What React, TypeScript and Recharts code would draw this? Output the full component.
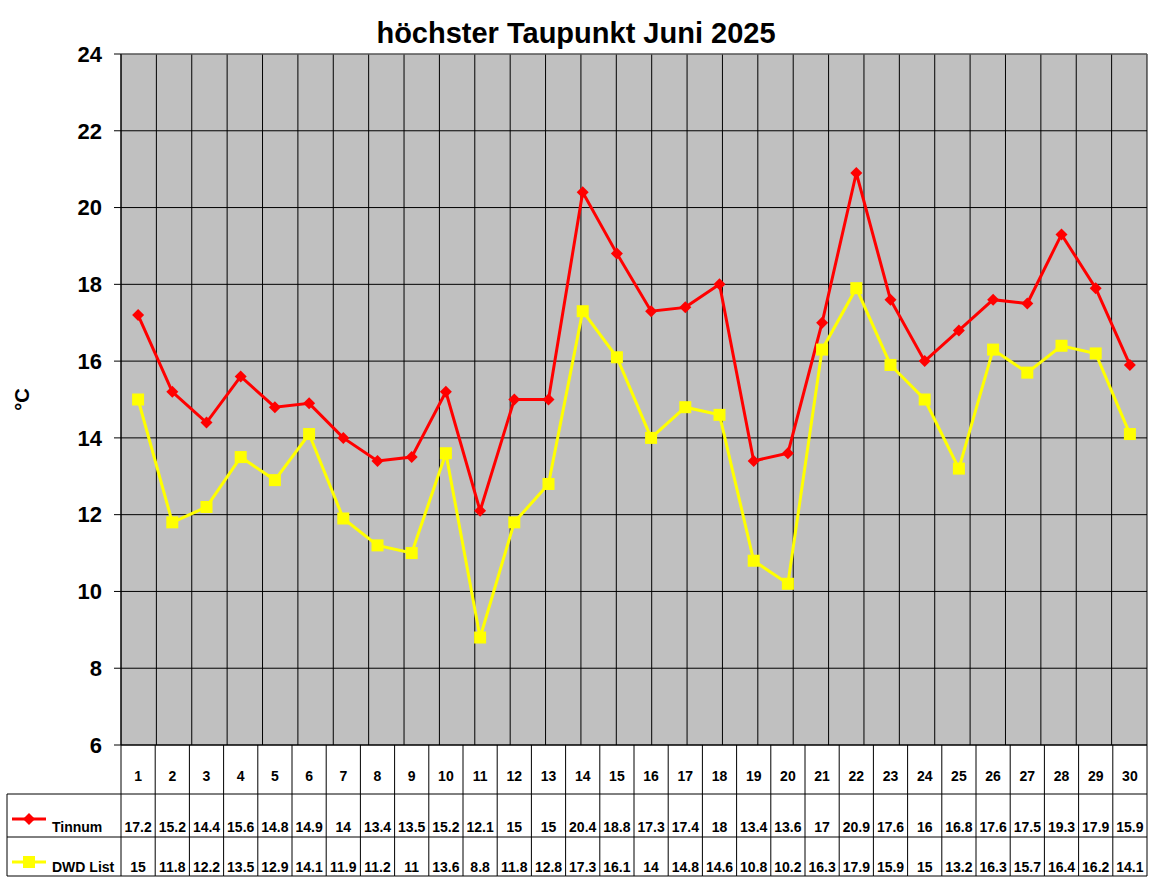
import React from "react";
import {
  LineChart,
  Line,
  XAxis,
  YAxis,
  CartesianGrid,
  ReferenceLine,
} from "recharts";

const days = [
  "1", "2", "3", "4", "5", "6", "7", "8", "9", "10",
  "11", "12", "13", "14", "15", "16", "17", "18", "19", "20",
  "21", "22", "23", "24", "25", "26", "27", "28", "29", "30",
];

const tinnum = [
  17.2, 15.2, 14.4, 15.6, 14.8, 14.9, 14, 13.4, 13.5, 15.2,
  12.1, 15, 15, 20.4, 18.8, 17.3, 17.4, 18, 13.4, 13.6,
  17, 20.9, 17.6, 16, 16.8, 17.6, 17.5, 19.3, 17.9, 15.9,
];

const dwdList = [
  15, 11.8, 12.2, 13.5, 12.9, 14.1, 11.9, 11.2, 11, 13.6,
  8.8, 11.8, 12.8, 17.3, 16.1, 14, 14.8, 14.6, 10.8, 10.2,
  16.3, 17.9, 15.9, 15, 13.2, 16.3, 15.7, 16.4, 16.2, 14.1,
];

const yTicks = [6, 8, 10, 12, 14, 16, 18, 20, 22, 24];
const gridTicks = days.map((_, i) => i).concat(days.length);

const data = days.map((day, i) => ({ day, tinnum: tinnum[i], dwd: dwdList[i] }));

const FONT = "Arial, 'Liberation Sans', sans-serif";
const W = 1152;
const H = 882;
const PLOT_LEFT = 121;
const PLOT_RIGHT = 1147;
const COL_W = (PLOT_RIGHT - PLOT_LEFT) / days.length;

function Diamond({ cx, cy }: any) {
  if (cx == null || cy == null) return null;
  const r = 6;
  return (
    <polygon
      points={`${cx},${cy - r} ${cx + r},${cy} ${cx},${cy + r} ${cx - r},${cy}`}
      fill="#ff0000"
    />
  );
}

function Square({ cx, cy }: any) {
  if (cx == null || cy == null) return null;
  return <rect x={cx - 6} y={cy - 6} width={12} height={12} fill="#ffff00" />;
}

function TableColumn({ x, y, payload }: any) {
  const i = payload.index;
  const left = x - COL_W / 2;
  const right = x + COL_W / 2;
  const last = i === days.length - 1;
  const txt = { fontFamily: FONT, fontSize: 14, fontWeight: 700, fill: "#000", textAnchor: "middle" as const };
  return (
    <g>
      <line x1={left} x2={left} y1={y} y2={y + 131} stroke="#000" />
      {last && <line x1={right} x2={right} y1={y} y2={y + 131} stroke="#000" />}
      <line x1={left} x2={right} y1={y + 49} y2={y + 49} stroke="#000" />
      <line x1={left} x2={right} y1={y + 92} y2={y + 92} stroke="#000" />
      <line x1={left} x2={right} y1={y + 131} y2={y + 131} stroke="#000" />
      <text x={x} y={y + 36} {...txt}>{payload.value}</text>
      <text x={x} y={y + 87} {...txt}>{tinnum[i]}</text>
      <text x={x} y={y + 127} {...txt}>{dwdList[i]}</text>
    </g>
  );
}

function LegendColumn() {
  const txt = { fontFamily: FONT, fontSize: 14, fontWeight: 700, fill: "#000" };
  return (
    <g>
      <line x1={7} x2={7} y1={794} y2={876} stroke="#000" />
      <line x1={7} x2={PLOT_LEFT} y1={794} y2={794} stroke="#000" />
      <line x1={7} x2={PLOT_LEFT} y1={837} y2={837} stroke="#000" />
      <line x1={7} x2={PLOT_LEFT} y1={876} y2={876} stroke="#000" />
      <line x1={12} x2={46} y1={819} y2={819} stroke="#ff0000" strokeWidth={3} />
      <Diamond cx={29} cy={819} />
      <text x={52} y={832} {...txt}>Tinnum</text>
      <line x1={12} x2={46} y1={862} y2={862} stroke="#ffff00" strokeWidth={3} />
      <Square cx={29} cy={862} />
      <text x={52} y={872} {...txt}>DWD List</text>
    </g>
  );
}

export default function App() {
  return (
    <div style={{ position: "absolute", left: 0, top: 0, width: W, height: H, background: "#fff" }}>
      <LineChart
        width={W}
        height={H}
        data={data}
        margin={{ top: 54, right: W - PLOT_RIGHT, left: 0, bottom: 6 }}
      >
        <CartesianGrid
          xAxisId="grid"
          fill="#c0c0c0"
          fillOpacity={1}
          stroke="#000"
          strokeOpacity={1}
        />
        <XAxis
          dataKey="day"
          height={131}
          interval={0}
          tickSize={0}
          tickMargin={0}
          axisLine={{ stroke: "#000" }}
          tickLine={false}
          padding={{ left: COL_W / 2, right: COL_W / 2 }}
          tick={<TableColumn />}
        />
        <XAxis
          xAxisId="grid"
          type="number"
          domain={[0, days.length]}
          ticks={gridTicks}
          hide
        />
        <YAxis
          width={PLOT_LEFT}
          domain={[6, 24]}
          ticks={yTicks}
          interval={0}
          tickSize={7}
          tickMargin={12}
          axisLine={{ stroke: "#000" }}
          tickLine={{ stroke: "#000" }}
          tick={{ fontFamily: FONT, fontSize: 22, fontWeight: 700, fill: "#000" }}
          label={{
            value: "°C",
            angle: -90,
            position: "insideLeft",
            offset: 22,
            style: { fontFamily: FONT, fontSize: 20, fontWeight: 700, fill: "#000", textAnchor: "middle" },
          }}
        />
        <ReferenceLine y={24} stroke="#808080" strokeWidth={1} />
        <Line
          type="linear"
          dataKey="tinnum"
          stroke="#ff0000"
          strokeWidth={3}
          dot={(p: any) => <Diamond key={`t${p.index}`} cx={p.cx} cy={p.cy} />}
          activeDot={false}
          isAnimationActive={false}
        />
        <Line
          type="linear"
          dataKey="dwd"
          stroke="#ffff00"
          strokeWidth={3}
          dot={(p: any) => <Square key={`d${p.index}`} cx={p.cx} cy={p.cy} />}
          activeDot={false}
          isAnimationActive={false}
        />
        <text
          x={576}
          y={43}
          textAnchor="middle"
          style={{ fontFamily: FONT, fontSize: 29, fontWeight: 700, fill: "#000" }}
        >
          höchster Taupunkt Juni 2025
        </text>
        <LegendColumn />
      </LineChart>
    </div>
  );
}
